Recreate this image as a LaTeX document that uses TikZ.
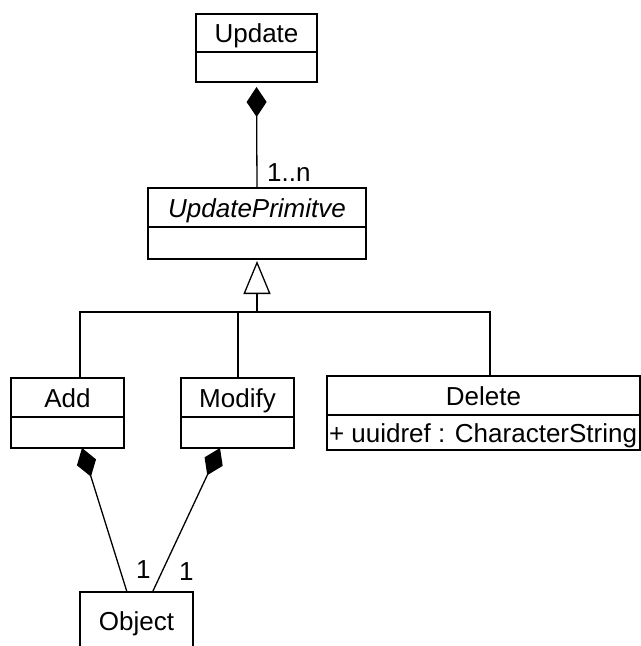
\documentclass[tikz,border=0pt]{standalone}
\usepackage{fontspec}
\setmainfont{Liberation Sans}
\usetikzlibrary{arrows.meta,positioning}

\tikzset{
  umlname/.style={draw, line width=1.3bp, inner sep=0pt, outer sep=0pt,
    minimum width=#1, minimum height=39bp, text height=22bp, text depth=2bp},
  umlattr/.style={draw, line width=1.3bp, inner sep=0pt, outer sep=0pt,
    minimum width=#1, minimum height=31bp},
  assoc/.style={line width=1.3bp},
  comp/.style={assoc, {Diamond[length=30bp,width=20bp]}-},
  gen/.style={assoc, -{Triangle[open,length=33bp,width=27bp,fill=white]}, shorten >=2bp},
  mult/.style={anchor=base west, inner sep=0pt}
}

\begin{document}
\begin{tikzpicture}[x=1bp,y=1bp,font=\fontsize{26bp}{31bp}\selectfont]
  \useasboundingbox (0,0) rectangle (641,-646);

  % classes
  \node[umlname=121bp, minimum height=38bp] (update) at (256.5,-33) {Update};
  \node[umlattr=121bp, minimum height=30bp, below=0pt of update] (update-attr) {};

  \node[umlname=218bp] (prim) at (257,-207.5) {\itshape UpdatePrimitve};
  \node[umlattr=218bp, minimum height=32bp, below=0pt of prim] (prim-attr) {};

  \node[umlname=113bp] (add) at (67.5,-397.5) {Add};
  \node[umlattr=113bp, below=0pt of add] (add-attr) {};

  \node[umlname=113bp] (modify) at (237.5,-397.5) {Modify};
  \node[umlattr=113bp, below=0pt of modify] (modify-attr) {};

  \node[umlname=313bp] (delete) at (483.5,-395.5) {Delete};
  \node[umlattr=313bp, minimum height=35bp, below=0pt of delete,
    text height=22bp, text depth=2bp] (delete-attr)
    {\makebox[309bp][l]{+ uuidref : CharacterString}};

  \node[umlname=113bp, minimum height=56bp] (object) at (136.5,-620) {Object};

  % update -- primitives
  \draw[comp, shorten <=5bp] (update-attr.south) -- (prim.north);
  \node[mult] (mult-prim) at ([shift={(10,6)}]prim.north) {1..n};

  % inheritance tree
  \coordinate (bar) at (257,-312);
  \draw[gen] (bar) -- (prim-attr.south);
  \draw[assoc] ([xshift=12.5bp]add.north) |- (bar) -| ([xshift=6.5bp]delete.north);
  \draw[assoc] ([xshift=0.5bp]modify.north) -- ([xshift=0.5bp]modify.north |- bar);

  % object compositions
  \draw[comp] ([xshift=14.5bp]add-attr.south) -- ([xshift=-9.5bp]object.north);
  \draw[comp] ([xshift=-17.5bp]modify-attr.south) -- ([xshift=16bp]object.north);
  \node[mult] (mult-add) at ([shift={(-0.5,14)}]object.north) {1};
  \node[mult] (mult-modify) at ([shift={(42.5,12)}]object.north) {1};
\end{tikzpicture}
\end{document}
